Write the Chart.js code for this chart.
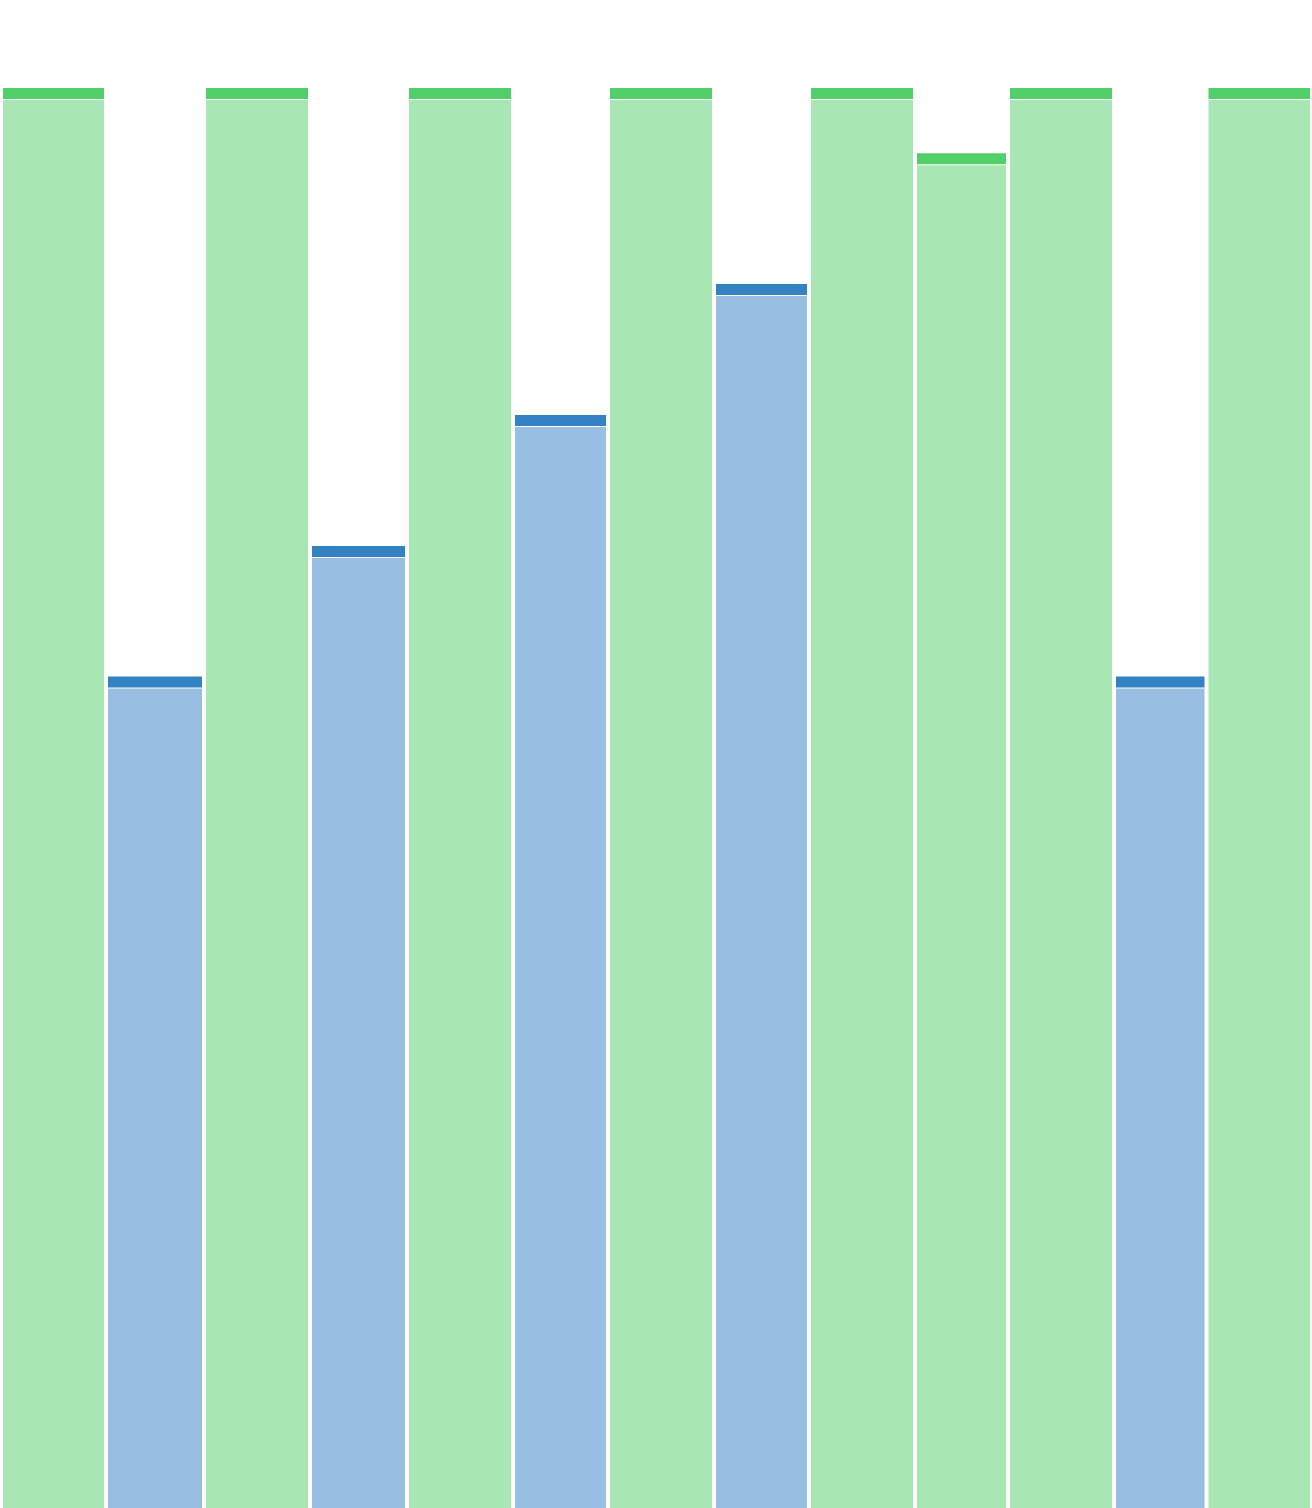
<!DOCTYPE html>
<html>
<head>
<meta charset="utf-8">
<script src="https://cdn.jsdelivr.net/npm/chart.js@4/dist/chart.umd.min.js"></script>
<style>
    html, body { margin: 0; padding: 0; background: #fff; }
    #wrap { width: 1312px; height: 1508px; }
</style>
</head>
<body>
<div id="wrap"><canvas id="chart" width="1312" height="1508"></canvas></div>
<script>
// slot width of each column (share units), its height, and which series it belongs to
const shares = [105, 98, 106, 97, 106, 95, 106, 95, 106, 93, 106, 92.5, 105.5];
const values = [100, 58.55, 100, 67.75, 100, 76.97, 100, 86.2, 100, 95.4, 100, 58.55, 100];
const series = ['green', 'blue', 'green', 'blue', 'green', 'blue', 'green', 'blue', 'green', 'green', 'green', 'blue', 'green'];

const colors = {
    green: { cap: '#51cf69', fill: 'rgba(81, 207, 105, 0.5)' },
    blue: { cap: '#3282c4', fill: 'rgba(50, 128, 196, 0.5)' }
};

// cap thickness and the thin white line below it, in value units
const CAP = 0.775;
const LINE = 0.07;

function buildDatasets() {
    const datasets = [];
    let start = 0;
    shares.forEach((w, i) => {
        const center = start + w / 2;
        start += w;
        const c = colors[series[i]];
        // body of the column
        datasets.push({
            label: 'body ' + (i + 1),
            data: [{ x: center, y: [0, values[i] - CAP - LINE] }],
            backgroundColor: c.fill,
            borderWidth: 0,
            inflateAmount: 0,
            barThickness: w - 4
        });
        // darker cap on top
        datasets.push({
            label: 'cap ' + (i + 1),
            data: [{ x: center, y: [values[i] - CAP, values[i]] }],
            backgroundColor: c.cap,
            borderWidth: 0,
            inflateAmount: 0,
            barThickness: w - 4
        });
    });
    return datasets;
}

const total = shares.reduce((a, b) => a + b, 0);

new Chart(document.getElementById('chart'), {
    type: 'bar',
    data: { datasets: buildDatasets() },
    options: {
        responsive: false,
        animation: false,
        devicePixelRatio: 1,
        grouped: false,
        layout: { padding: { top: 88, left: 0, right: 0, bottom: 0 } },
        plugins: {
            legend: { display: false },
            tooltip: { enabled: false },
            title: { display: false }
        },
        scales: {
            x: {
                type: 'linear',
                display: false,
                offset: false,
                min: -1,
                max: total
            },
            y: {
                display: false,
                min: 0,
                max: 100
            }
        }
    }
});
</script>
</body>
</html>
